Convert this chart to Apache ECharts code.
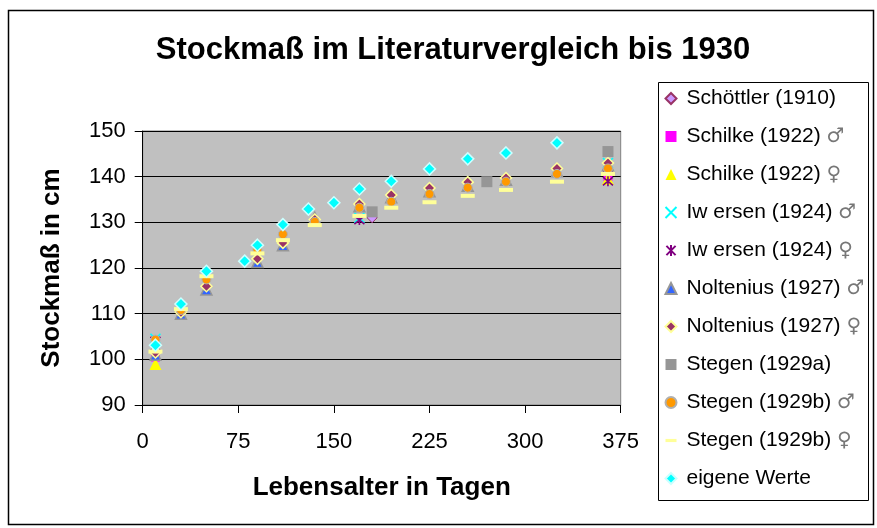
<!DOCTYPE html>
<html>
<head>
<meta charset="utf-8">
<title>Stockmaß im Literaturvergleich bis 1930</title>
<script src="https://cdn.jsdelivr.net/npm/echarts@6/dist/echarts.min.js"></script>
<style>
  html, body { margin: 0; padding: 0; background: #fff; }
  #chart { width: 877px; height: 528px; }
</style>
</head>
<body>
<div id="chart"></div>
<script>
// Age in days and height at withers (cm), one array pair per source
const schoettlerDays = [10, 180, 365];
const schoettlerCm   = [102, 131, 141];

const schilkeMDays = [10, 365];
const schilkeMCm   = [100.5, 140];
const schilkeFDays = [10, 365];
const schilkeFCm   = [99, 139.5];

const iwersenMDays = [10, 170, 365];
const iwersenMCm   = [104.5, 131, 143];
const iwersenFDays = [10, 170, 365];
const iwersenFCm   = [104, 130.5, 139];

const nolteniusDays = [10, 30, 50, 90, 110, 135, 170, 195, 225, 255, 285, 325, 365];
const nolteniusMCm  = [101, 110, 115.3, 121.3, 125, 131, 133.5, 135.5, 136.8, 138, 139.3, 141.2, 142.5];
const nolteniusFCm  = [101.5, 110.3, 116, 122, 125.5, 130.6, 134, 136, 137.5, 138.8, 139.7, 141.8, 143];

const stegenADays = [180, 270, 365];
const stegenACm   = [132.3, 138.9, 145.5];

const stegenBDays = [10, 30, 50, 90, 110, 135, 170, 195, 225, 255, 285, 325, 365];
const stegenBMCm  = [104.3, 110.8, 117.5, 124, 127.4, 130.1, 133.2, 134.5, 136.2, 137.6, 138.9, 140.6, 141.8];
const stegenBFCm  = [101.7, 111, 118.2, 123.2, 126.1, 129.4, 131.4, 133.2, 134.4, 135.8, 137.1, 138.9, 140.6];

const eigeneDays = [10, 30, 50, 80, 90, 110, 130, 150, 170, 195, 225, 255, 285, 325];
const eigeneCm   = [103.1, 112.1, 119.3, 121.5, 125, 129.5, 132.9, 134.3, 137.3, 139, 141.7, 143.9, 145.2, 147.4];

const xTicks = { min: 0, max: 375, step: 75 };
const yTicks = { min: 90, max: 150, step: 10 };

const FONT = '"Liberation Sans", Arial, sans-serif';

const pairs = (xs, ys) => xs.map((x, i) => [x, ys[i]]);

// stroke-only marker shapes and a short horizontal bar
const CROSS = 'path://M0,0L10,10M10,0L0,10';
const STAR  = 'path://M0,0L10,10M10,0L0,10M5,-1L5,11';
const DASH  = 'path://M0,-6L0,-6M0,-2L14,-2L14,2L0,2ZM14,6L14,6';

const seriesDefs = [
  { name: 'Schöttler (1910)',    data: pairs(schoettlerDays, schoettlerCm), symbol: 'diamond', size: 10,
    style: { color: '#cc99ff', borderColor: '#993366', borderWidth: 1 } },
  { name: 'Schilke (1922) ♂',    data: pairs(schilkeMDays, schilkeMCm), symbol: 'rect', size: 9,
    style: { color: '#ff00ff' } },
  { name: 'Schilke (1922) ♀',    data: pairs(schilkeFDays, schilkeFCm), symbol: 'triangle', size: 12,
    style: { color: '#ffff00' } },
  { name: 'Iw ersen (1924) ♂',   data: pairs(iwersenMDays, iwersenMCm), symbol: CROSS, size: 10,
    style: { color: 'none', borderColor: '#00ffff', borderWidth: 1.6 } },
  { name: 'Iw ersen (1924) ♀',   data: pairs(iwersenFDays, iwersenFCm), symbol: STAR, size: 10,
    style: { color: 'none', borderColor: '#800080', borderWidth: 1.6 } },
  { name: 'Noltenius (1927) ♂',  data: pairs(nolteniusDays, nolteniusMCm), symbol: 'triangle', size: 11,
    style: { color: '#3366ff', borderColor: '#969696', borderWidth: 1.5 } },
  { name: 'Noltenius (1927) ♀',  data: pairs(nolteniusDays, nolteniusFCm), symbol: 'diamond', size: 11,
    style: { color: '#993366', borderColor: '#ffff99', borderWidth: 1.5 } },
  { name: 'Stegen (1929a)',      data: pairs(stegenADays, stegenACm), symbol: 'rect', size: 11,
    style: { color: '#969696' } },
  { name: 'Stegen (1929b) ♂',    data: pairs(stegenBDays, stegenBMCm), symbol: 'circle', size: 9,
    style: { color: '#ff9900', borderColor: '#b0b0b0', borderWidth: 1 } },
  { name: 'Stegen (1929b) ♀',    data: pairs(stegenBDays, stegenBFCm), symbol: DASH, size: [14, 12],
    style: { color: '#ffff99' } },
  { name: 'eigene Werte',        data: pairs(eigeneDays, eigeneCm), symbol: 'diamond', size: 12,
    style: { color: '#00ffff', borderColor: '#ccffff', borderWidth: 1.5 } }
];

const chart = echarts.init(document.getElementById('chart'), null, { renderer: 'canvas' });

const option = {
  backgroundColor: '#ffffff',
  animation: false,
  title: {
    text: 'Stockmaß im Literaturvergleich bis 1930',
    left: 448, top: 30, textAlign: 'center',
    textStyle: { fontFamily: FONT, fontSize: 31, fontWeight: 'bold', color: '#000' }
  },
  grid: {
    left: 142.7, right: 256.3, top: 131, bottom: 123,
    show: true, backgroundColor: '#c0c0c0', borderColor: '#808080', borderWidth: 1
  },
  xAxis: {
    type: 'value', min: xTicks.min, max: xTicks.max, interval: xTicks.step,
    name: 'Lebensalter in Tagen', nameLocation: 'middle', nameGap: 70,
    nameTextStyle: { fontFamily: FONT, fontSize: 26, fontWeight: 'bold', color: '#000' },
    axisLine: { show: true, onZero: false, lineStyle: { color: '#000', width: 1 } },
    axisTick: { show: true, length: 8, lineStyle: { color: '#000' } },
    axisLabel: { margin: 26, fontFamily: FONT, fontSize: 22, color: '#000' },
    splitLine: { show: false }
  },
  yAxis: {
    type: 'value', min: yTicks.min, max: yTicks.max, interval: yTicks.step,
    name: 'Stockmaß in cm', nameLocation: 'middle', nameGap: 78, nameRotate: 90,
    nameTextStyle: { fontFamily: FONT, fontSize: 26, fontWeight: 'bold', color: '#000' },
    axisLine: { show: true, onZero: false, lineStyle: { color: '#000', width: 1 } },
    axisTick: { show: true, length: 8, lineStyle: { color: '#000' } },
    axisLabel: { margin: 17, fontFamily: FONT, fontSize: 22, color: '#000' },
    splitLine: { show: true, lineStyle: { color: '#000', width: 1 } }
  },
  legend: {
    orient: 'vertical', left: 663, top: 88,
    itemWidth: 11, itemHeight: 11, itemGap: 17,
    padding: 0,
    data: seriesDefs.map(d => d.name),
    formatter: name => {
      const m = name.match(/^(.*?)\s*([♂♀])$/);
      return m ? '{n|' + m[1] + '} {g|' + m[2] + '}' : '{n|' + name + '}';
    },
    textStyle: {
      fontFamily: FONT, fontSize: 21, color: '#000',
      rich: {
        n: { fontFamily: FONT, fontSize: 21, color: '#000', padding: [0, 0, 0, 5] },
        g: { fontFamily: '"DejaVu Sans", sans-serif', fontSize: 20, color: '#777' }
      }
    }
  },
  graphic: [
    // chart frame
    { type: 'rect', left: 6, top: 8, silent: true, z: -1,
      shape: { width: 865, height: 514 },
      style: { fill: 'none', stroke: '#000', lineWidth: 1.5 } },
    // legend frame
    { type: 'rect', left: 656, top: 80, silent: true, z: -1,
      shape: { width: 210, height: 418 },
      style: { fill: 'none', stroke: '#000', lineWidth: 1 } }
  ],
  series: seriesDefs.map(d => ({
    name: d.name,
    type: 'scatter',
    data: d.data,
    symbol: d.symbol,
    symbolSize: d.size,
    itemStyle: Object.assign({ opacity: 1 }, d.style),
    emphasis: { disabled: true }
  }))
};

chart.setOption(option);
</script>
</body>
</html>
